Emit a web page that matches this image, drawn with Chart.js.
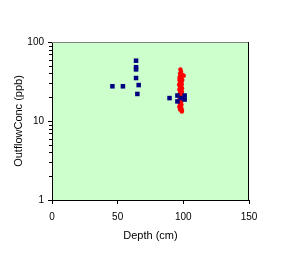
<!DOCTYPE html>
<html>
<head>
<meta charset="utf-8">
<style>
html,body{margin:0;padding:0;background:#fff;}
#wrap{width:285px;height:271px;position:relative;}
</style>
<script src="https://cdn.jsdelivr.net/npm/chart.js@4"></script>
</head>
<body>
<div id="wrap"><canvas id="c" width="285" height="271"></canvas></div>
<script>
const xTicks = [0, 50, 100, 150];
const yTicks = [1, 10, 100];
const yMinor = [2,3,4,5,6,7,8,9,20,30,40,50,60,70,80,90];

const blueX = [46, 54, 64, 64, 64, 64, 66, 65, 89.5, 95.5, 95.5, 101, 101, 98];
const blueY = [27.5, 27.5, 58, 48, 45, 35, 28.5, 22, 19.5, 21, 17.7, 21, 18.7, 19.5];

const redX = [97.8, 98.3, 99.5, 100.3, 97.5, 97.2, 98.5, 97, 98, 97.5, 98.8, 97.2, 98, 97.6, 98.4, 97, 98.2, 97.8, 97.3, 98.6, 97.9, 97.2, 98.5, 97.7, 98.1, 97.4, 98.3, 97.6, 98, 97.2, 97, 98.5, 97.5, 99, 98.8, 96.8, 99, 96.8, 99.2, 98.5, 97.3, 98.7, 97.9, 98.9, 97.5, 98.4, 97.1, 98.6, 97.8];
const redY = [45, 42, 38, 37.5, 40, 36, 34, 33, 31, 30, 29, 28, 27, 26, 25.5, 25, 24, 23, 22, 22.5, 21, 20, 20, 19, 18, 17.5, 17, 16.5, 16, 15.5, 15, 14.5, 14, 13.5, 13.2, 21.5, 26, 29, 33, 39, 35, 31.5, 27.5, 23.5, 24.5, 19.5, 18.5, 16, 15];

const toPts = (xs, ys) => xs.map((x, i) => ({x: x, y: ys[i]}));

const plotBg = {
  id: 'plotBg',
  beforeDraw(chart) {
    const {ctx, chartArea: a} = chart;
    ctx.save();
    ctx.fillStyle = '#CCFFCC';
    ctx.fillRect(a.left, a.top, a.right - a.left, a.bottom - a.top);
    ctx.restore();
  },
  afterDatasetsDraw(chart) {
    const {ctx, chartArea: a} = chart;
    ctx.save();
    ctx.lineWidth = 1;
    ctx.strokeStyle = '#808080';
    ctx.beginPath();
    ctx.moveTo(a.left, a.top + 0.5);
    ctx.lineTo(a.right, a.top + 0.5);
    ctx.stroke();
    ctx.strokeStyle = '#000';
    ctx.beginPath();
    ctx.moveTo(a.right - 0.5, a.top);
    ctx.lineTo(a.right - 0.5, a.bottom);
    ctx.stroke();
    const ys = chart.scales.y;
    ctx.beginPath();
    yMinor.forEach(v => {
      const p = Math.round(ys.getPixelForValue(v)) + 0.5;
      ctx.moveTo(a.left - 3, p);
      ctx.lineTo(a.left, p);
    });
    ctx.stroke();
    ctx.restore();
  }
};

new Chart(document.getElementById('c'), {
  type: 'scatter',
  data: {
    datasets: [
      {
        data: toPts(blueX, blueY),
        pointStyle: 'rect',
        pointRadius: 3.2,
        backgroundColor: '#000080',
        borderColor: '#000080',
        borderWidth: 0
      },
      {
        data: toPts(redX, redY),
        pointStyle: 'circle',
        pointRadius: 2.2,
        backgroundColor: '#FF0000',
        borderColor: '#FF0000',
        borderWidth: 0
      }
    ]
  },
  options: {
    responsive: false,
    animation: false,
    devicePixelRatio: 1,
    layout: {padding: {left: 0, top: 42, right: 36, bottom: 0}},
    plugins: {legend: {display: false}, tooltip: {enabled: false}},
    scales: {
      x: {
        type: 'linear',
        min: 0, max: 150,
        afterBuildTicks: s => { s.ticks = xTicks.map(v => ({value: v})); },
        afterFit: s => { s.height = 71; },
        grid: {display: true, drawOnChartArea: false, drawTicks: true, tickLength: 4, color: '#000', tickColor: '#000'},
        border: {display: true, color: '#000', width: 1},
        ticks: {color: '#000', font: {family: 'Liberation Sans, Arial', size: 10}, padding: 7, maxRotation: 0},
        title: {display: true, text: 'Depth (cm)', color: '#000', font: {family: 'Liberation Sans, Arial', size: 11}, padding: {top: 4, bottom: 28}}
      },
      y: {
        type: 'logarithmic',
        min: 1, max: 100,
        afterBuildTicks: s => { s.ticks = yTicks.map(v => ({value: v, major: true})); },
        afterFit: s => { s.width = 52; },
        grid: {display: true, drawOnChartArea: false, drawTicks: true, tickLength: 4, color: '#000', tickColor: '#000'},
        border: {display: true, color: '#000', width: 1},
        ticks: {color: '#000', font: {family: 'Liberation Sans, Arial', size: 10}, padding: 4, callback: v => String(v)},
        title: {display: true, text: 'OutflowConc (ppb)', color: '#000', font: {family: 'Liberation Sans, Arial', size: 11}, padding: {top: 12, bottom: 4}}
      }
    }
  },
  plugins: [plotBg]
});
</script>
</body>
</html>
